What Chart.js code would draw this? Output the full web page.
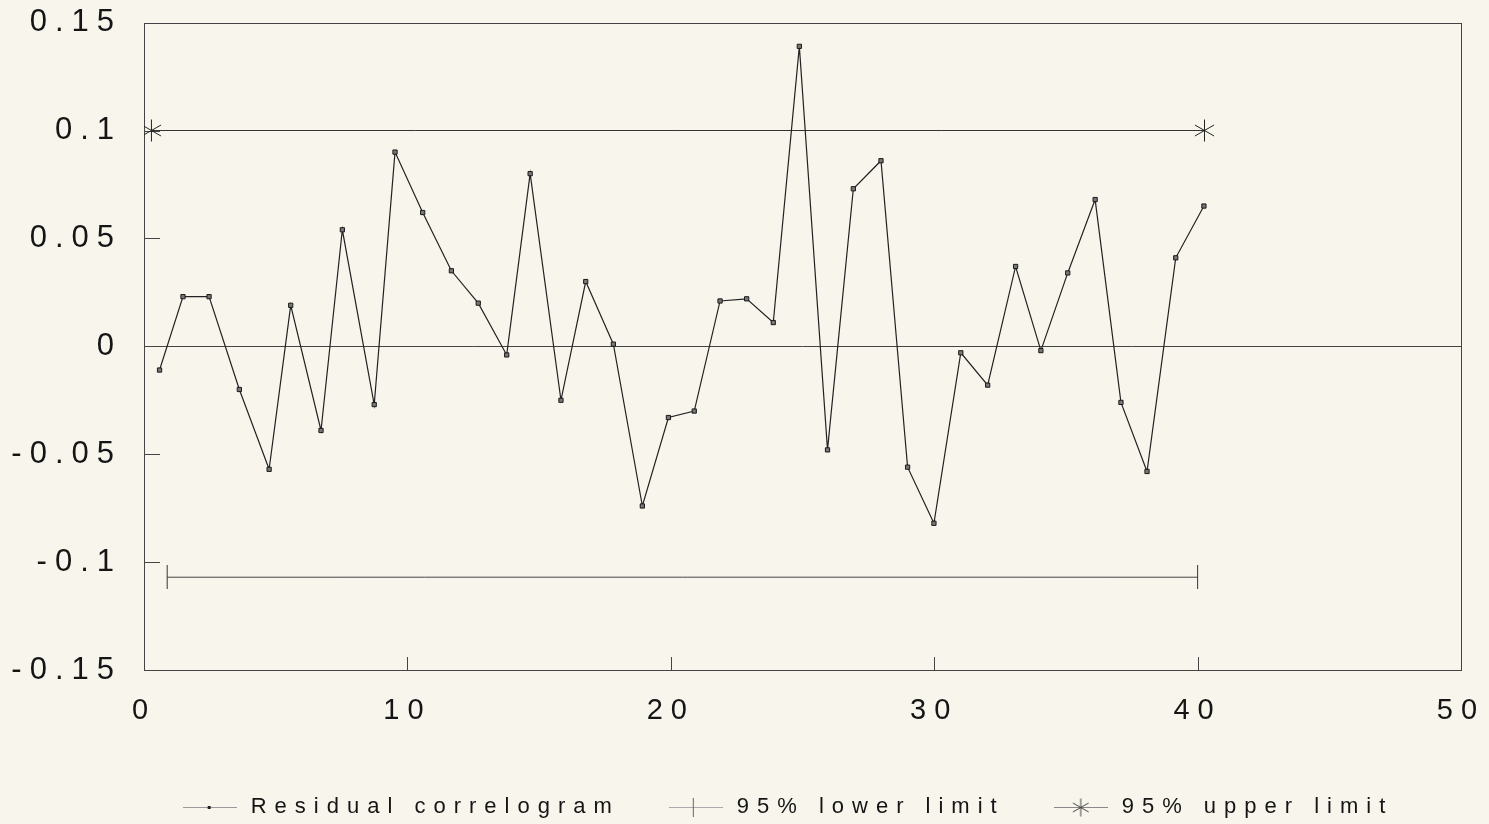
<!DOCTYPE html>
<html>
<head>
<meta charset="utf-8">
<script src="https://cdn.jsdelivr.net/npm/chart.js@4/dist/chart.umd.min.js"></script>
<style>
  html, body { margin: 0; background: #f7f5ec; }
  #wrap { width: 1489px; height: 824px; }
</style>
</head>
<body>
<div id="wrap"><canvas id="chart" width="1489" height="824"></canvas></div>
<script>
// values
const lagX = [0.59, 1.48, 2.47, 3.62, 4.75, 5.57, 6.72, 7.53, 8.74, 9.53,
  10.58, 11.67, 12.69, 13.77, 14.66, 15.83, 16.77, 17.82, 18.92, 19.91,
  20.89, 21.87, 22.88, 23.89, 24.88, 25.95, 26.93, 27.98, 28.99, 29.99,
  31.01, 32.03, 33.09, 34.05, 35.07, 36.11, 37.09, 38.08, 39.17, 40.24];
const residual = [-0.011, 0.023, 0.023, -0.020, -0.057, 0.019, -0.039, 0.054, -0.027, 0.090,
  0.062, 0.035, 0.020, -0.004, 0.080, -0.025, 0.030, 0.001, -0.074, -0.033,
  -0.030, 0.021, 0.022, 0.011, 0.139, -0.048, 0.073, 0.086, -0.056, -0.082,
  -0.003, -0.018, 0.037, -0.002, 0.034, 0.068, -0.026, -0.058, 0.041, 0.065];
const lowerX = [0.88, 40.0];
const lowerY = [-0.107, -0.107];
const upperX = [0.28, 40.26];
const upperY = [0.1, 0.1];
const seriesNames = ["Residual correlogram", "95% lower limit", "95% upper limit"];
const xTickLabels = ["0", "10", "20", "30", "40", "50"];
const yTickLabels = ["-0.15", "-0.1", "-0.05", "0", "0.05", "0.1", "0.15"];

const ink = "#151515";

function makeCanvas(w, h, draw) {
  const c = document.createElement("canvas");
  c.width = w; c.height = h;
  const g = c.getContext("2d");
  g.strokeStyle = "#333"; g.fillStyle = "#333"; g.lineWidth = 1;
  draw(g, w, h);
  return c;
}
function asterisk(g, cx, cy, r) {
  g.beginPath();
  g.moveTo(cx, cy - r); g.lineTo(cx, cy + r);
  const dx = r * 0.87, dy = r * 0.5;
  g.moveTo(cx - dx, cy - dy); g.lineTo(cx + dx, cy + dy);
  g.moveTo(cx - dx, cy + dy); g.lineTo(cx + dx, cy - dy);
  g.stroke();
}
const upperMark = makeCanvas(25, 25, (g) => { g.strokeStyle = "#222"; asterisk(g, 12.5, 12.5, 11); });
const lowerMark = makeCanvas(3, 24, (g) => {
  g.beginPath(); g.moveTo(1.5, 0); g.lineTo(1.5, 24); g.stroke();
});
// legend symbols: short line with the series marker
const legendIcons = [
  makeCanvas(54, 20, (g) => {
    g.strokeStyle = "#999"; g.beginPath(); g.moveTo(0, 10.5); g.lineTo(54, 10.5); g.stroke();
    g.fillStyle = "#222"; g.fillRect(25, 9, 3, 3);
  }),
  makeCanvas(54, 20, (g) => {
    g.strokeStyle = "#aaa"; g.beginPath(); g.moveTo(0, 10.5); g.lineTo(54, 10.5); g.stroke();
    g.strokeStyle = "#666"; g.beginPath(); g.moveTo(24.5, 1); g.lineTo(24.5, 20); g.stroke();
  }),
  makeCanvas(54, 20, (g) => {
    g.strokeStyle = "#888"; g.beginPath(); g.moveTo(0, 10.5); g.lineTo(54, 10.5); g.stroke();
    g.strokeStyle = "#444"; asterisk(g, 27, 10.5, 9);
  }),
];

const toPoints = (xs, ys) => xs.map((x, i) => ({ x, y: ys[i] }));

const framePlugin = {
  id: "frame",
  beforeUpdate(chart) { chart.ctx.letterSpacing = "8px"; },
  afterLayout(chart) {
    // legend sits a little right of centre in the original
    const L = chart.legend;
    L.left += 56; L.right += 56;
    L.top += 4; L.bottom += 4;
  },
  beforeDraw(chart) { chart.ctx.letterSpacing = "8px"; },
  beforeDatasetsDraw(chart) {
    const { ctx, chartArea: a, scales: { x, y } } = chart;
    ctx.save();
    ctx.strokeStyle = "#444";
    ctx.lineWidth = 1;
    ctx.strokeRect(Math.round(a.left) + 0.5, Math.round(a.top) + 0.5, Math.round(a.width), Math.round(a.height));
    ctx.beginPath();
    y.ticks.forEach((t) => {
      const py = Math.round(y.getPixelForValue(t.value)) + 0.5;
      ctx.moveTo(a.left, py); ctx.lineTo(a.left + 16, py);
    });
    x.ticks.forEach((t) => {
      const px = Math.round(x.getPixelForValue(t.value)) + 0.5;
      ctx.moveTo(px, a.bottom); ctx.lineTo(px, a.bottom - 13);
    });
    ctx.stroke();
    ctx.restore();
  },
};

const labelFor = (list) => (v) => {
  const s = list.find((l) => Math.abs(Number(l) - v) < 1e-9);
  return s === undefined ? "" : s;
};

new Chart(document.getElementById("chart"), {
  type: "scatter",
  data: {
    datasets: [
      {
        label: seriesNames[0],
        data: toPoints(lagX, residual),
        showLine: true,
        borderColor: "#222",
        borderWidth: 1.2,
        pointStyle: "rect",
        pointRadius: 3,
        pointBackgroundColor: "#777",
        pointBorderColor: "#1a1a1a",
        pointBorderWidth: 1,
      },
      {
        label: seriesNames[1],
        data: toPoints(lowerX, lowerY),
        showLine: true,
        borderColor: "#444",
        borderWidth: 1,
        pointStyle: lowerMark,
        pointRadius: 6,
      },
      {
        label: seriesNames[2],
        data: toPoints(upperX, upperY),
        showLine: true,
        borderColor: "#333",
        borderWidth: 1,
        pointStyle: upperMark,
        pointRadius: 6,
      },
    ],
  },
  options: {
    responsive: false,
    animation: false,
    devicePixelRatio: 1,
    layout: { padding: { top: 5, right: 28, left: 0, bottom: 0 } },
    scales: {
      x: {
        type: "linear",
        min: 0,
        max: 50,
        afterFit: (s) => { s.height = 76; },
        ticks: {
          stepSize: 10,
          padding: 2,
          color: ink,
          font: { family: "Liberation Sans", size: 29 },
          callback: labelFor(xTickLabels),
        },
        grid: { display: false, drawTicks: true, tickLength: 22, tickColor: "rgba(0,0,0,0)" },
        border: { display: false },
      },
      y: {
        min: -0.15,
        max: 0.15,
        afterFit: (s) => { s.width = 144; },
        ticks: {
          stepSize: 0.05,
          padding: 4,
          color: ink,
          font: { family: "Liberation Sans", size: 31 },
          callback: labelFor(yTickLabels),
        },
        grid: {
          drawTicks: true,
          tickLength: 18,
          tickColor: "rgba(0,0,0,0)",
          color: (c) => (c.tick && Math.abs(c.tick.value) < 1e-9 ? "#444" : "rgba(0,0,0,0)"),
          lineWidth: 1,
        },
        border: { display: false },
      },
    },
    plugins: {
      tooltip: { enabled: false },
      legend: {
        position: "bottom",
        labels: {
          color: ink,
          font: { family: "Liberation Sans", size: 22 },
          usePointStyle: true,
          pointStyleWidth: 60,
          padding: 46,
          generateLabels: (chart) =>
            Chart.defaults.plugins.legend.labels.generateLabels(chart).map((item, i) => {
              item.pointStyle = legendIcons[i];
              return item;
            }),
        },
      },
    },
  },
  plugins: [framePlugin],
});
</script>
</body>
</html>
